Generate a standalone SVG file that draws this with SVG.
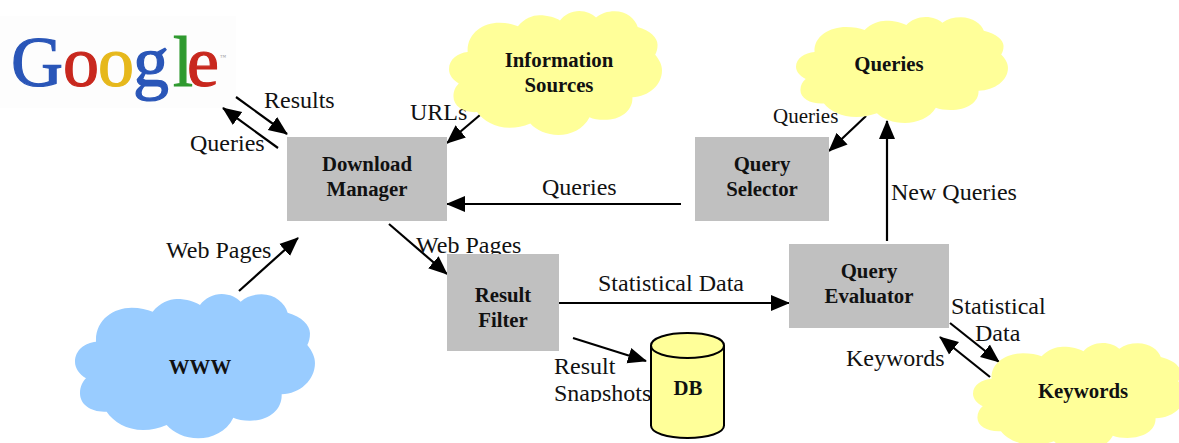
<svg xmlns="http://www.w3.org/2000/svg" width="1179" height="443" viewBox="0 0 1179 443">
<style>
text{font-family:"Liberation Serif","Times New Roman",serif;fill:#111}
.lb{font-size:24px}
.b{font-size:20.800px;font-weight:bold;text-anchor:middle}
.box{fill:#c0c0c0}
.y{fill:#ffff99}
.bl{fill:#99ccff}
.c{stroke:#000;stroke-width:2.2;fill:none;marker-end:url(#ah)}
</style>
<defs>
<marker id="ah" markerUnits="userSpaceOnUse" markerWidth="20" markerHeight="18" refX="18" refY="9" orient="auto"><path d="M0 1L19 9L0 17Z" fill="#000"/></marker>
<path id="cloud" d="M108 215C105 150 160 113 215 113C240 113 262 118 278 125C300 98 328 87 350 87C380 87 405 95 420 105C435 85 460 72 485 72C510 72 530 83 542 95C560 80 580 73 605 73C645 73 675 100 683 128C725 140 750 165 750 190C750 205 747 215 742 225C758 245 765 262 765 280C765 330 720 372 665 373C667 420 625 452 570 452C550 452 532 449 520 443C500 485 455 505 415 505C375 505 340 488 320 465C295 475 275 480 250 480C200 480 160 455 140 425C95 428 60 405 60 370C60 350 68 335 78 325C58 312 45 295 45 275C45 240 75 218 108 215Z"/>
<clipPath id="snap"><rect x="540" y="380" width="120" height="22"/></clipPath>
</defs>
<rect width="1179" height="443" fill="#fff"/>
<g id="google">
<rect x="0" y="16" width="236" height="92" fill="#fdfdfd"/>
<text y="86" font-size="72" x="11 63 98 133 173 187" stroke-width="1.200"><tspan style="fill:#2a56b8;stroke:#2a56b8">G</tspan><tspan style="fill:#c8281e;stroke:#c8281e">o</tspan><tspan style="fill:#e6b81c;stroke:#e6b81c">o</tspan><tspan style="fill:#2a56b8;stroke:#2a56b8">g</tspan><tspan style="fill:#2f9a2f;stroke:#2f9a2f">l</tspan><tspan style="fill:#c8281e;stroke:#c8281e">e</tspan></text>
<text x="220" y="59" font-size="6" style="fill:#999">™</text>
</g>
<g id="connectors">
<line class="c" x1="236" y1="97" x2="287" y2="134"/>
<line class="c" x1="278" y1="148" x2="223" y2="108"/>
<line class="c" x1="480" y1="115" x2="447" y2="143"/>
<line class="c" x1="866" y1="116" x2="829" y2="151"/>
<line class="c" x1="681" y1="204" x2="447" y2="204"/>
<line class="c" x1="887" y1="241" x2="887" y2="121"/>
<line class="c" x1="239" y1="291" x2="298" y2="238"/>
<line class="c" x1="389" y1="224" x2="447" y2="274"/>
<line class="c" x1="559" y1="303" x2="789" y2="303"/>
<line class="c" x1="573" y1="338" x2="646" y2="361"/>
<line class="c" x1="950" y1="323" x2="999" y2="362"/>
<line class="c" x1="990" y1="377" x2="940" y2="337"/>
</g>
<g id="labels">
<text class="lb" x="264" y="108">Results</text>
<text class="lb" x="190" y="151">Queries</text>
<text class="lb" x="410" y="120">URLs</text>
<text x="773" y="123" font-size="21">Queries</text>
<text class="lb" x="542" y="195">Queries</text>
<text class="lb" x="891" y="200">New Queries</text>
<text class="lb" x="166" y="258">Web Pages</text>
<text class="lb" x="416" y="253">Web Pages</text>
<text class="lb" x="598" y="291">Statistical Data</text>
<text class="lb" x="554" y="374">Result</text>
<text class="lb" x="554" y="401" clip-path="url(#snap)">Snapshots</text>
<text class="lb" x="951" y="314">Statistical</text>
<text class="lb" x="975" y="341">Data</text>
<text class="lb" x="846" y="366">Keywords</text>
</g>
<g id="information-sources">
<use href="#cloud" class="y" transform="translate(435.7 -9.600) scale(.2958 .2864)"/>
<text class="b" x="559" y="67">Information</text>
<text class="b" x="559" y="92">Sources</text>
</g>
<g id="queries">
<use href="#cloud" class="y" transform="translate(782.750 -.6) scale(.2944 .2448)"/>
<text class="b" x="889" y="71">Queries</text>
</g>
<g id="www">
<use href="#cloud" class="bl" transform="translate(60 270) scale(.3333)"/>
<text class="b" x="200" y="374">WWW</text>
</g>
<g id="keywords">
<use href="#cloud" class="y" transform="translate(959.750 325) scale(.2944 .25)"/>
<text class="b" x="1083" y="398">Keywords</text>
</g>
<g id="download-manager">
<rect class="box" x="287" y="137" width="160" height="84"/>
<text class="b" x="367" y="171">Download</text>
<text class="b" x="367" y="196">Manager</text>
</g>
<g id="query-selector">
<rect class="box" x="695" y="137" width="134" height="84"/>
<text class="b" x="762" y="171">Query</text>
<text class="b" x="762" y="196">Selector</text>
</g>
<g id="result-filter">
<rect class="box" x="447" y="254" width="112" height="97"/>
<text class="b" x="503" y="302">Result</text>
<text class="b" x="503" y="327">Filter</text>
</g>
<g id="query-evaluator">
<rect class="box" x="789" y="244" width="160" height="84"/>
<text class="b" x="869" y="278">Query</text>
<text class="b" x="869" y="303">Evaluator</text>
</g>
<g id="db">
<path d="M651 345.500C651 338 667 333 687.500 333S724 338 724 345.500V425.500C724 433 708 438 687.500 438S651 433 651 425.500Z" class="y" stroke="#000" stroke-width="2"/>
<path d="M651 345.500C651 353 667 358 687.500 358S724 353 724 345.500" fill="none" stroke="#000" stroke-width="2"/>
<text class="b" x="688" y="395">DB</text>
</g>
</svg>
